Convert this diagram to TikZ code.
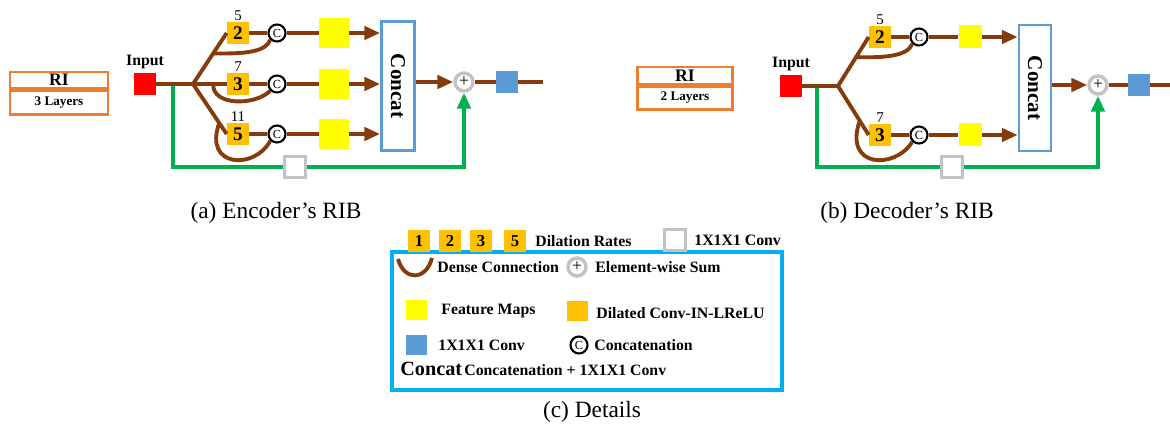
\documentclass[tikz,border=0pt]{standalone}
\usepackage{fontspec}
\setmainfont{Liberation Serif}
\usepackage{graphicx}
\usetikzlibrary{positioning,arrows.meta,calc}

\definecolor{dbrown}{RGB}{133,60,12}
\definecolor{borange}{RGB}{255,192,0}
\definecolor{fyellow}{RGB}{255,255,0}
\definecolor{cblue}{RGB}{91,155,213}
\definecolor{riorange}{RGB}{237,125,49}
\definecolor{sgreen}{RGB}{0,176,80}
\definecolor{cgray}{RGB}{195,195,195}
\definecolor{lcyan}{RGB}{0,176,240}
\definecolor{inred}{RGB}{255,0,0}

\tikzset{
  flow/.style={draw=dbrown, line width=2.2pt},
  skip/.style={draw=sgreen, line width=2.2pt},
  dil/.style={fill=borange, minimum size=0.44cm, inner sep=0pt, font=\bfseries\fontsize{11}{11}\selectfont},
  rate/.style={font=\fontsize{8.5}{9}\selectfont, inner sep=0.5pt},
  cat/.style={circle, draw, line width=1.2pt, fill=white, minimum size=0.34cm, inner sep=0pt, font=\fontsize{7}{7}\selectfont},
  fmap/.style={fill=fyellow, minimum size=#1, inner sep=0pt},
  conv/.style={fill=cblue, minimum size=0.44cm, inner sep=0pt},
  gconv/.style={draw=cgray, line width=2.2pt, fill=white, minimum size=0.42cm, inner sep=0pt},
  sum/.style={circle, draw=cgray, line width=2pt, fill=white, minimum size=0.36cm, inner sep=0pt, font=\fontsize{10}{10}\selectfont},
  concatbox/.style={draw=cblue, line width=1.5pt, fill=white, inner sep=0pt, minimum width=0.66cm, font=\bfseries\fontsize{12}{12}\selectfont},
  inp/.style={fill=inred, minimum size=0.44cm, inner sep=0pt},
  ri/.style={draw=riorange, line width=1.4pt, minimum width=#1, inner sep=0pt, font=\bfseries\fontsize{10}{10}\selectfont},
  lbl/.style={font=\bfseries\fontsize{9}{9}\selectfont, inner sep=0pt, anchor=west},
  capt/.style={font=\fontsize{13.3}{14}\selectfont, inner sep=0pt}
}

\begin{document}
\begin{tikzpicture}[x=0.02cm, y=-0.02cm, >={Triangle[length=9pt,width=7.5pt]}]
\useasboundingbox (0,0) rectangle (1170,432);

% encoder RIB
\node[ri=1.96cm, minimum height=0.32cm] (eri) at (59,80) {RI};
\node[ri=1.96cm, minimum height=0.48cm, below=0pt of eri, font=\bfseries\fontsize{7.5}{8}\selectfont] (elay) {3 Layers};
\node[inp] (ein) at (145,84) {};
\node[above=2pt of ein, inner sep=0pt, font=\bfseries\fontsize{9}{9}\selectfont] (einl) {Input};
\coordinate (eb) at (193,84);
\coordinate (eg) at (173,84);
\coordinate (ebot) at (173,167);
\node[dil] (e2) at (238,33) {2};
\node[dil] (e3) at (238,84) {3};
\node[dil] (e5) at (238,134) {5};
\node[rate, above=0pt of e2] (e2r) {5};
\node[rate, above=0pt of e3] (e3r) {7};
\node[rate, above=0pt of e5] (e5r) {11};
\node[cat] (ecA) at (277,33) {C};
\node[cat] (ecB) at (277,84) {C};
\node[cat] (ecC) at (277,134) {C};
\node[fmap=0.6cm] (eyA) at (334,33) {};
\node[fmap=0.6cm] (eyB) at (334,84) {};
\node[fmap=0.6cm] (eyC) at (334,134) {};
\node[concatbox, minimum height=2.58cm] (econ) at (398,86) {\rotatebox{-90}{Concat}};
\node[sum] (esum) at (464,82) {+};
\node[conv] (eout) at (507,82) {};
\coordinate (eend) at (543,82);

\draw[skip,->] (eg) -- (ebot) -| (esum.south);
\node[gconv] (egc) at (295,167) {};

\draw[flow] (ein) -- (eb);
\draw[flow] (eb) -- (e2.west);
\draw[flow] (eb) -- (e3);
\draw[flow] (eb) -- (e5.west);
\draw[flow] (e2) -- (ecA);
\draw[flow] (e3) -- (ecB);
\draw[flow] (e5) -- (ecC);
\draw[flow] (ecA) -- (eyA);
\draw[flow] (ecB) -- (eyB);
\draw[flow] (ecC) -- (eyC);
\draw[flow,->] (eyA) -- (eyA -| econ.west);
\draw[flow,->] (eyB) -- (eyB -| econ.west);
\draw[flow,->] (eyC) -- (eyC -| econ.west);
\draw[flow] ($(eb)!0.6!(e2.west)$) .. controls (245,54) and (266,52) .. (ecA.south west);
\draw[flow] ($(eb)!0.45!(e3)$) .. controls (212,106) and (255,106) .. (ecB.south west);
\draw[flow] ($(eb)!0.78!(e5.west)$) .. controls (203,168) and (255,170) .. (ecC.south west);
\draw[flow,->] (econ.east |- esum) -- (esum);
\draw[flow] (esum) -- (eout);
\draw[flow] (eout) -- (eend);
\node[capt] (ecap) at (276,213) {(a) Encoder's RIB};

% decoder RIB
\node[ri=1.9cm, minimum height=0.34cm] (dri) at (685,75.5) {RI};
\node[ri=1.9cm, minimum height=0.46cm, below=0pt of dri, font=\bfseries\fontsize{7.5}{8}\selectfont] (dlay) {2 Layers};
\node[inp] (din) at (791,86) {};
\node[above=2pt of din, inner sep=0pt, font=\bfseries\fontsize{9}{9}\selectfont] (dinl) {Input};
\coordinate (db) at (838,86);
\coordinate (dg) at (817,86);
\coordinate (dbot) at (817,167);
\node[dil] (d2) at (880,37) {2};
\node[dil] (d3) at (880,135) {3};
\node[rate, above=0pt of d2] (d2r) {5};
\node[rate, above=0pt of d3] (d3r) {7};
\node[cat] (dcA) at (919,37) {C};
\node[cat] (dcB) at (919,135) {C};
\node[fmap=0.46cm] (dyA) at (970,37) {};
\node[fmap=0.46cm] (dyB) at (970,135) {};
\node[concatbox, minimum height=2.52cm, minimum width=0.64cm] (dcon) at (1035,88) {\rotatebox{-90}{Concat}};
\node[sum] (dsum) at (1098,85) {+};
\node[conv] (dout) at (1139,85) {};
\coordinate (dend) at (1170,85);

\draw[skip,->] (dg) -- (dbot) -| (dsum.south);
\node[gconv] (dgc) at (952,167) {};

\draw[flow] (din) -- (db);
\draw[flow] (db) -- (d2.west);
\draw[flow] (db) -- (d3.west);
\draw[flow] (d2) -- (dcA);
\draw[flow] (d3) -- (dcB);
\draw[flow] (dcA) -- (dyA);
\draw[flow] (dcB) -- (dyB);
\draw[flow,->] (dyA) -- (dyA -| dcon.west);
\draw[flow,->] (dyB) -- (dyB -| dcon.west);
\draw[flow] ($(db)!0.59!(d2.west)$) .. controls (885,58) and (908,56) .. (dcA.south west);
\draw[flow] ($(db)!0.71!(d3.west)$) .. controls (843,168) and (895,170) .. (dcB.south west);
\draw[flow,->] (dcon.east |- dsum) -- (dsum);
\draw[flow] (dsum) -- (dout);
\draw[flow] (dout) -- (dend);
\node[capt] (dcap) at (907,213) {(b) Decoder's RIB};

% details
\node[draw=lcyan, line width=2pt, minimum width=7.8cm, minimum height=2.76cm, inner sep=0pt] (lbox) at (587,321) {};
\node[dil, font=\bfseries\fontsize{9.5}{10}\selectfont] (l1) at (419,241) {1};
\node[dil, font=\bfseries\fontsize{9.5}{10}\selectfont] (l2) at (450,241) {2};
\node[dil, font=\bfseries\fontsize{9.5}{10}\selectfont] (l3) at (481,241) {3};
\node[dil, font=\bfseries\fontsize{9.5}{10}\selectfont] (l5) at (515,241) {5};
\node[lbl] (ldil) at (535,241) {Dilation Rates};
\node[gconv] (lgc) at (675,240) {};
\node[lbl] (lgct) at (694,240) {1X1X1 Conv};
\coordinate (lda) at (398,259);
\coordinate (ldb) at (432,258);
\draw[flow] (lda) .. controls (404,281) and (426,281) .. (ldb);
\node[lbl] (ldct) at (437,267) {Dense Connection};
\node[sum] (lsum) at (577,267) {+};
\node[lbl] (lsumt) at (595,267) {Element-wise Sum};
\node[fmap=0.42cm] (lfm) at (416,310) {};
\node[lbl] (lfmt) at (441,311) {Feature Maps};
\node[dil, minimum size=0.42cm] (ldc) at (577,311) {};
\node[lbl] (ldcc) at (596,313) {Dilated Conv-IN-LReLU};
\node[conv, minimum size=0.42cm] (lcv) at (416,345) {};
\node[lbl] (lcvt) at (438,345) {1X1X1 Conv};
\node[cat] (lcat) at (579,345) {C};
\node[lbl] (lcatt) at (594,345) {Concatenation};
\node[lbl, font=\bfseries\fontsize{11.5}{12}\selectfont] (lcon) at (400,369) {Concat};
\node[lbl] (lcont) at (464,370) {Concatenation + 1X1X1 Conv};
\node[capt] (ccap) at (592,412) {(c) Details};
\end{tikzpicture}
\end{document}
